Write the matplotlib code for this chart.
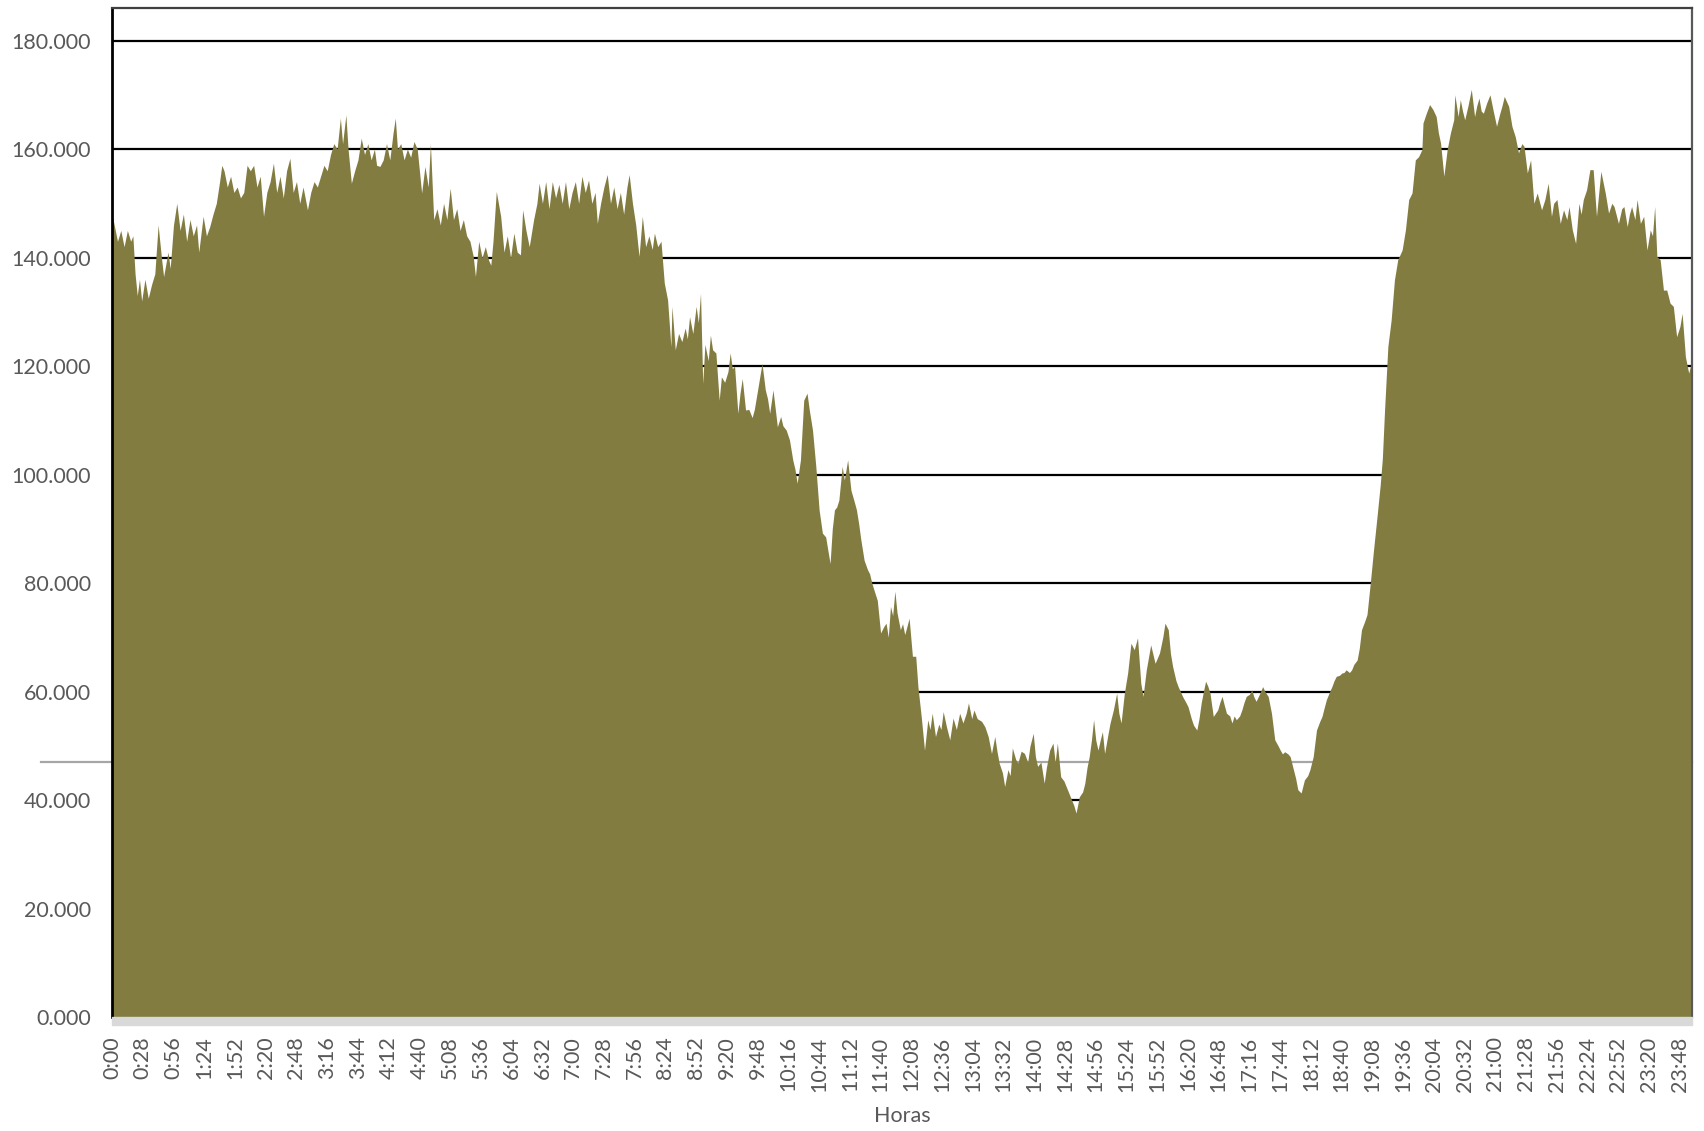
import matplotlib
matplotlib.use("Agg")
import matplotlib.pyplot as plt
from matplotlib.patches import Rectangle
from matplotlib.ticker import FuncFormatter

# ---- data (minute of day, value in thousands) ----
sample_minute = [
    0, 2, 5, 8, 11, 14, 17, 19, 21, 23, 25, 27, 30, 33, 36, 39, 42, 45, 47, 51, 53, 56, 59, 62, 65, 68, 71, 74, 77, 79,
    83, 86, 89, 92, 95, 98, 100, 102, 105, 108, 111, 114, 117, 120, 123, 126, 129, 132, 135, 138, 141, 144, 147, 150,
    153, 156, 159, 162, 165, 168, 171, 174, 178, 181, 184, 187, 190, 193, 196, 199, 202, 205, 208, 210, 213, 215, 218,
    221, 224, 227, 230, 233, 236, 239, 241, 244,
    247, 250, 253, 256, 258, 260, 263, 266, 269, 272, 275, 278, 282, 285, 288, 290, 293, 296, 299, 302, 305, 308, 311,
    314, 317, 320, 323, 326, 329, 331, 334, 337, 340, 343, 345, 347, 350, 354, 357, 360, 363, 366, 369, 372, 374, 377,
    380, 384, 387, 389, 392, 395, 398, 401, 404, 407, 410, 413, 416, 419, 422, 425, 428, 431, 434, 437, 440, 442, 445,
    448, 451, 454, 457, 460, 463, 466, 469, 471, 474, 477, 480,
    483, 486, 489, 492, 494, 497, 500, 503, 506, 509, 510, 513, 516, 519, 522, 524, 526, 529, 532, 534, 536, 538, 540,
    543, 545, 547, 550, 553, 555, 558, 561, 563, 565, 567, 570, 572, 574, 577, 580, 583, 585, 588, 592, 595, 597, 599,
    602, 606, 609, 611, 614, 617, 620, 622, 624, 627, 630, 633, 635, 638, 641, 644, 647, 650, 652, 654, 656, 658, 660,
    662, 665, 667, 670, 673, 676, 678, 680, 682, 685, 688, 690, 692, 694, 697,
    700, 703, 705, 707, 709, 711, 713, 715, 718, 720, 722, 724, 726, 729, 732, 734, 737, 740, 743, 745, 747, 750, 753,
    755, 757, 760, 763, 766, 769, 772, 775, 778, 780, 783, 785, 788, 792, 795, 798, 801, 804, 806, 808, 811, 813, 816,
    818, 820, 823, 825, 828, 831, 834, 836, 839, 841, 843, 846, 849, 851, 854, 857, 859, 861, 864, 867, 869, 872, 874,
    876, 878, 881, 884, 886, 888, 890, 892, 894, 896, 898, 900, 902, 904, 907, 909, 912, 915, 917, 919, 922, 925, 928,
    931, 934, 937, 939, 942, 946, 950, 954, 957, 959, 962, 964, 966, 969, 971, 973, 975, 978, 980, 983, 985, 988, 990,
    992, 994, 996, 998, 1000, 1003, 1005, 1007, 1009, 1011, 1013, 1015, 1018, 1020, 1022, 1024, 1027, 1029, 1031, 1033,
    1036, 1038, 1040, 1042, 1045, 1048, 1050, 1053, 1056, 1059, 1062, 1064, 1066, 1068, 1071, 1073, 1076, 1078, 1080,
    1083, 1086, 1089, 1091, 1094, 1097, 1100, 1102, 1104, 1106, 1109, 1111, 1113, 1115, 1118, 1120, 1122, 1124, 1127,
    1129, 1131, 1134, 1136, 1138, 1141, 1143, 1146, 1149, 1152, 1155, 1157, 1159, 1162, 1165, 1168, 1171, 1175, 1178,
    1181, 1184, 1187, 1190, 1193, 1194, 1197, 1200, 1203, 1206, 1208, 1210, 1213, 1216, 1219, 1222, 1223, 1226, 1228,
    1230, 1232, 1235, 1238, 1241, 1243, 1245, 1247, 1249, 1252, 1255, 1258, 1261, 1264, 1266, 1268, 1272, 1275, 1278,
    1281, 1284, 1286, 1289, 1292, 1295, 1298, 1302, 1305, 1308, 1311, 1313, 1316, 1319, 1322, 1325, 1327, 1330, 1333,
    1336, 1338, 1340, 1343, 1346, 1349, 1352, 1356, 1360, 1363, 1366, 1368, 1372, 1375, 1377, 1380, 1382, 1384, 1387,
    1389, 1392, 1395, 1398, 1401, 1403, 1405, 1407, 1410, 1413, 1416, 1419, 1422, 1425, 1428, 1430, 1433, 1436, 1439,
]

demand_thousands = [
    148, 146, 143, 145, 142, 145, 143, 144, 137, 133, 136, 132, 136, 132.5, 135, 137, 146, 140, 136.5, 141, 138, 146,
    150, 145, 148, 143, 147, 144, 146, 141, 147.6, 144, 145.7, 148, 150, 154, 157, 156, 153, 155, 152, 153, 151, 152,
    157, 156, 157, 153, 155, 147.6, 152, 154, 157.4, 152, 155, 151, 156, 158.3, 152, 154, 150, 153, 148.8, 152, 154,
    153, 155, 157, 156, 159, 161, 160, 165.7, 161, 166.3, 160, 153.7, 156, 158, 162, 159, 161, 158, 160, 157, 156.8,
    158, 161, 158, 163, 165.7, 160, 161, 158, 160, 158.5, 161.4, 160, 151.9, 156.8, 153, 161, 147, 149, 146, 150, 147,
    152.8, 147, 149, 145, 147, 144, 143, 140.2, 136.5, 143, 140, 142, 139.5, 138.6, 143, 152.2, 147.6, 141, 144, 140,
    144.5, 141, 140.5, 148.8, 145, 142, 147, 150, 153.7, 150, 154, 149, 154, 151, 153.5, 150, 154, 149, 152, 154, 150,
    155, 152, 154.3, 150, 152, 146.3, 150, 153, 155.3, 150, 153, 149, 152, 148, 153, 155.3, 150, 146, 140.2,
    147.6, 142, 144, 141.5, 144.5, 142, 143, 135.3, 132.2, 123.6, 131, 123, 126, 124.5, 127, 125, 129.1, 126, 131, 128,
    133.4, 116.8, 124, 121, 125.7, 123, 122.4, 113.7, 118, 117, 119, 122.4, 119.5, 120, 111.3, 115, 117.7, 111.9, 112,
    110.5, 112, 115.6, 120.5, 115.6, 114, 111.3, 115.6, 108.8, 110.7, 109, 108.2, 106.4, 102.7, 101, 98.4, 102.7,
    113.7, 115, 112, 108.2, 101.5, 93.5, 89.2, 88.5, 86, 83.6, 90, 93.5, 94, 95.3, 101.5, 99, 102.7, 97.1, 95, 93.5,
    91, 88, 84.2, 82.5, 81.7, 80, 78.7, 76.8,
    70.8, 72, 72.6, 70, 75.7, 74, 78.5, 74.5, 71.4, 72.5, 70.5, 72, 73.5, 66.5, 66.5, 60.9, 55.4, 49.2, 54.8, 53, 56,
    51.7, 54, 53, 56.3, 53.5, 51.1, 55.1, 53, 56, 54.2, 56, 57.9, 55, 56.6, 55, 54.5, 53.5, 51.7, 48.6, 51.7, 49, 46.8,
    45, 42.5, 45.6, 44.5, 49.6, 47.5, 46.8, 49, 48.6, 47, 49.9, 52.3, 48, 46.2, 47, 43.1, 46, 49.2, 50.5, 47, 50.5,
    44.3, 43.5, 42.5, 41, 40, 39, 37.6, 40.6, 41.5, 43.1, 46, 48, 51, 54.8, 51, 49.2, 51, 52.6, 48.6, 52, 54.2, 56.6,
    59.7, 56, 54.2, 59.7, 63.4, 68.9, 67.7, 69.9, 61.5, 59.1, 64, 68.6, 65.2, 67.1, 70, 72.6, 71.4, 67, 64.6, 62, 60.9,
    60, 59.1, 58, 57.2, 55, 53.8, 52.9, 55, 57.9, 60, 61.9, 61, 59.7, 55.4, 56, 56.6, 58, 59.1, 57.5, 56, 55.5, 54.2,
    55.5, 54.8, 55.5, 56.6, 58, 59.1, 59.5, 60.3, 59, 58.2, 59.5, 60.9, 60, 59.1, 56, 51.1, 50, 49.2, 48.5, 48.9, 48.5,
    48, 45.6, 44, 41.9, 41.3, 43.7, 44.5, 45.6, 48, 52.9, 54.5, 55.4, 57, 58.5, 60, 60.9, 62, 62.8, 63, 63.4, 63.5, 64,
    63.5, 64, 65, 65.8, 68, 71.4, 73, 74.2, 80, 86.2, 92, 98, 103, 111.9, 123.6, 128.5, 135.9, 139.6, 141.4, 145.1,
    150.7, 151.9, 158, 158.6, 159.9, 164.8, 166.6, 168.2, 167.3, 166, 163, 161.1, 155, 159.9, 163, 165.4, 170, 166,
    169.1, 167, 165.4, 168, 171, 166, 168, 169.4, 167, 166.6, 168.5, 170, 167, 164.2, 166.6, 168, 169.7, 167.9, 164.2,
    162.3, 159.3, 161, 160.5, 155.6, 158, 150, 151.9, 148.8, 150.7, 153.7, 147.6, 150, 150.7, 146.3, 148.8, 147, 149.4,
    145.1, 142.6, 150, 148, 150.7, 152.5, 156.2, 156.2, 147.6, 155.9, 151.9, 148.2, 150, 149.4, 146.3, 149, 149.4,
    145.7, 148, 149.4, 147, 150.7, 146.3, 147.6, 141.4, 145.1, 144, 149.4, 140.2, 139.6, 134, 134, 131.6, 131, 125.4,
    127.3, 129.7, 121.7, 118.7, 121.1,
]

tick_labels = [
    "0:00", "0:28", "0:56", "1:24", "1:52", "2:20", "2:48", "3:16", "3:44", "4:12", "4:40", "5:08", "5:36",
    "6:04", "6:32", "7:00", "7:28", "7:56", "8:24", "8:52", "9:20", "9:48", "10:16", "10:44", "11:12", "11:40",
    "12:08", "12:36", "13:04", "13:32", "14:00", "14:28", "14:56", "15:24", "15:52", "16:20", "16:48", "17:16",
    "17:44", "18:12", "18:40", "19:08", "19:36", "20:04", "20:32", "21:00", "21:28", "21:56", "22:24", "22:52",
    "23:20", "23:48",
]
y_ticks = [0, 20, 40, 60, 80, 100, 120, 140, 160, 180]
reference_level = 47  # grey horizontal line
x_title = "Horas"

# ---- styling ----
FILL = "#837C41"
TXT = "#595959"
plt.rcParams["font.family"] = ["Lato", "DejaVu Sans"]

W, H = 1704, 1131
fig = plt.figure(figsize=(W / 100, H / 100), dpi=100)
L, R, T, B = 112, 1692, 8, 1017
ax = fig.add_axes([L / W, 1 - B / H, (R - L) / W, (B - T) / H])

ax.set_xlim(0, 1439)
ax.set_ylim(0, 186)

# gridlines (behind area)
for yv in y_ticks[1:]:
    ax.axhline(yv, color="black", lw=1.6, zorder=1)
ax.axhline(reference_level, xmin=(41 - L) / (R - L), xmax=1.0, color="#A6A6A6",
           lw=1.6, zorder=1, clip_on=False)

ax.fill_between(sample_minute, demand_thousands, 0, color=FILL, lw=0, zorder=2)

tick_pos = [int(t.split(":")[0]) * 60 + int(t.split(":")[1]) for t in tick_labels]
ax.set_xticks(tick_pos)
ax.set_xticklabels(tick_labels, rotation=90, fontsize=15.5, color=TXT)
ax.set_yticks(y_ticks)
ax.yaxis.set_major_formatter(FuncFormatter(lambda v, p: f"{v:.3f}"))
for lab in ax.get_yticklabels():
    lab.set_color(TXT)
    lab.set_fontsize(15.5)
ax.tick_params(axis="both", length=0)
ax.tick_params(axis="x", pad=14)
ax.tick_params(axis="y", pad=15)

ax.set_xlabel(x_title, fontsize=15.5, color=TXT, labelpad=10)

ax.spines["left"].set_color("black")
ax.spines["left"].set_linewidth(2.0)
ax.spines["top"].set_color("#404040")
ax.spines["top"].set_linewidth(1.6)
ax.spines["right"].set_color("#595959")
ax.spines["right"].set_linewidth(1.6)
ax.spines["bottom"].set_visible(False)
for s in ax.spines.values():
    s.set_zorder(5)

# light grey floor band under the plot
fig.patches.append(Rectangle((L / W, 1 - 1025 / H), (R - L) / W, 8 / H,
                             transform=fig.transFigure, color="#D9D9D9", zorder=0))

fig.savefig("out.png", dpi=100, facecolor="white")
